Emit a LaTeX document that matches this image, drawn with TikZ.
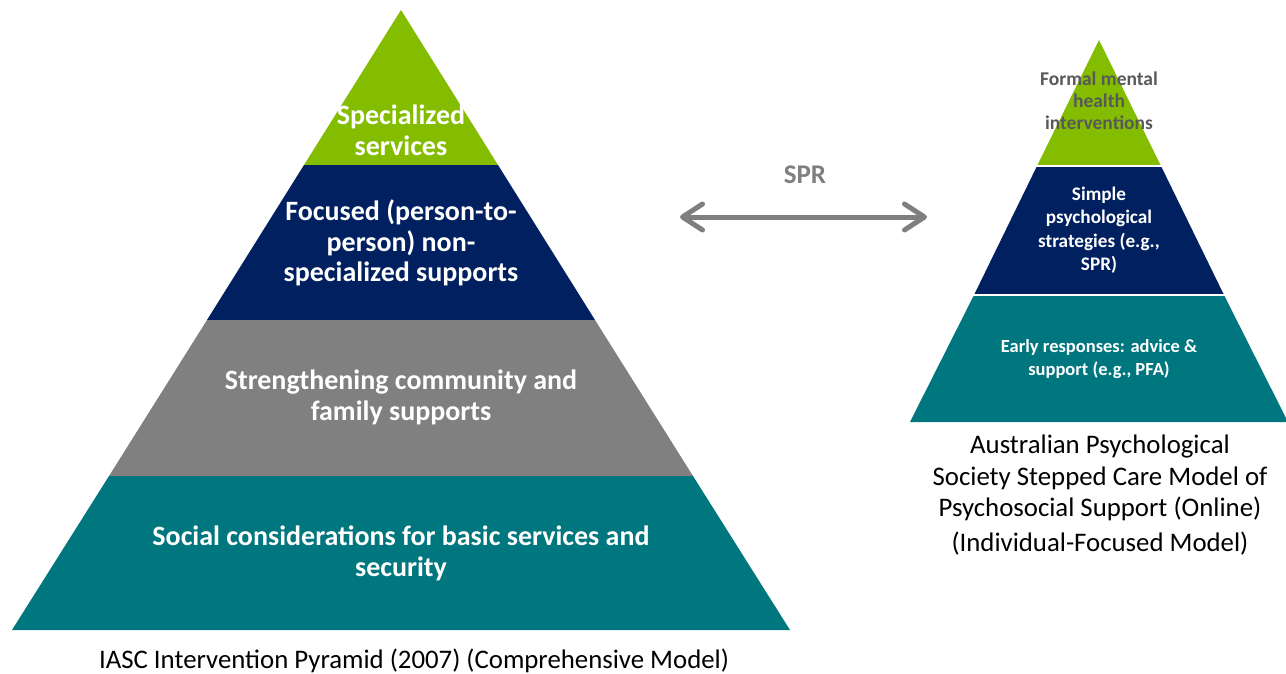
\documentclass[tikz,border=0pt]{standalone}
\usepackage{fontspec}
\setmainfont{Carlito}
\usetikzlibrary{arrows.meta}
\definecolor{pgreen}{HTML}{84BD00}
\definecolor{pnavy}{HTML}{002060}
\definecolor{pgray}{HTML}{808080}
\definecolor{pteal}{HTML}{00777F}
\definecolor{dgray}{HTML}{595959}
\definecolor{agray}{HTML}{7F7F7F}
\tikzset{
  bigtxt/.style={text=white, align=center, font=\bfseries\fontsize{28}{30.8}\selectfont, inner sep=0pt},
  smalltxt/.style={text=white, align=center, font=\bfseries\fontsize{18.5}{23}\selectfont, inner sep=0pt},
  captxt/.style={text=black, align=center, font=\fontsize{26.8}{31.5}\selectfont, inner sep=0pt},
  sep/.style={draw=white, line width=2pt},
}
\begin{document}
\begin{tikzpicture}[x=1pt,y=-1pt]
\useasboundingbox (0,0) rectangle (1286,673);
% ---- left pyramid (apex 401,10 ; base 12..790 at 630)
\fill[pgreen] (401,10) -- (498,165) -- (304,165) -- cycle;
\fill[pnavy] (304,165) -- (498,165) -- (595,320) -- (207,320) -- cycle;
\fill[pgray] (207,320) -- (595,320) -- (693,476) -- (109,476) -- cycle;
\fill[pteal] (109,476) -- (693,476) -- (790,630) -- (12,630) -- cycle;
\node[bigtxt] (l1) at (401,130) {Specialized\\services};
\node[bigtxt] (l2) at (401,243) {Focused (person-to-\\person) non-\\specialized supports};
\node[bigtxt] (l3) at (401,397) {Strengthening community and\\family supports};
\node[bigtxt] (l4) at (401,553) {Social considerations for basic services and\\security};
\node[captxt] (lcap) at (414,661) {IASC Intervention Pyramid (2007) (Comprehensive Model)};
% ---- right pyramid (apex 1099,40 ; base 910..1288 at 422)
\fill[pgreen] (1099,40) -- (1161,166) -- (1037,166) -- cycle;
\fill[pnavy] (1037,166) -- (1161,166) -- (1224,295) -- (974,295) -- cycle;
\fill[pteal] (974,295) -- (1224,295) -- (1288,422) -- (910,422) -- cycle;
\draw[sep] (1035,166) -- (1163,166);
\draw[sep] (972,295) -- (1226,295);
\node[smalltxt, text=dgray, font=\bfseries\fontsize{19.5}{22}\selectfont] (r1) at (1099,101) {Formal mental\\health\\interventions};
\node[smalltxt, font=\bfseries\fontsize{19.2}{23.5}\selectfont] (r2) at (1099,230) {Simple\\psychological\\strategies (e.g.,\\SPR)};
\node[smalltxt] (r3) at (1099,359) {Early responses: advice \&\\support (e.g., PFA)};
\node[captxt] (rcap) at (1100,478) {Australian Psychological\\Society Stepped Care Model of\\Psychosocial Support (Online)};
\node[captxt, anchor=north] (rcap2) at (1100,532) {(Individual-Focused Model)};
% ---- arrow
\node[text=agray, font=\bfseries\fontsize{27}{30}\selectfont, inner sep=0pt] (spr) at (805,175) {SPR};
\coordinate (aL) at (680,217);
\coordinate (aR) at (927,217);
\draw[agray, line width=5pt, {Straight Barb[length=20pt,width=26pt,round]}-{Straight Barb[length=20pt,width=26pt,round]}] (aL) -- (aR);
\end{tikzpicture}
\end{document}
